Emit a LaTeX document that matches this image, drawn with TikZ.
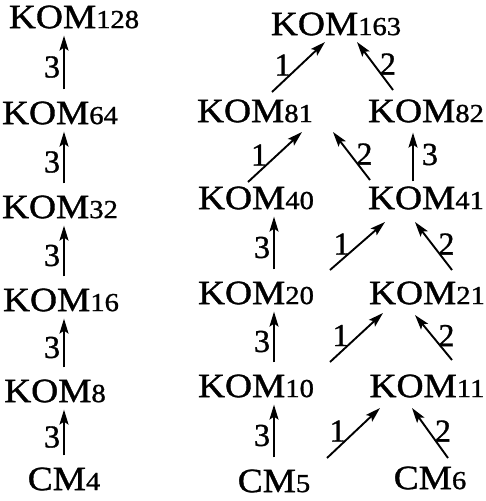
\documentclass[tikz,border=0pt]{standalone}
\usepackage{fontspec}
\setmainfont{Liberation Serif}
\newfontfamily\plainserif{Liberation Serif}[FakeBold=1]
\usetikzlibrary{arrows.meta}

\newcommand{\kom}[1]{\scalebox{1.1}[1]{KOM{\fontsize{26}{26}\selectfont #1}}}
\newcommand{\cm}[1]{\scalebox{1.1}[1]{CM{\fontsize{26}{26}\selectfont #1}}}

\begin{document}
\begin{tikzpicture}[x=1pt, y=-1pt,
    mod/.style={inner sep=0pt, font=\plainserif\fontsize{34}{36}\selectfont},
    arr/.style={-{Stealth[length=15pt, width=9pt, inset=3pt]}, line width=1.9pt},
    up/.style={arr, shorten <=12pt, shorten >=7pt},
    wt/.style={inner sep=1pt, font=\plainserif\fontsize{32}{32}\selectfont},
    wl/.style={wt, left=6pt, yshift=2pt},
    wr/.style={wt, right=3pt, yshift=2pt},
    wv/.style={wt, left=2pt, yshift=-2pt}]
  \useasboundingbox (0,0) rectangle (485,501);
  % left chain
  \node[mod] (k128) at (74,17) {\kom{128}};
  \node[mod] (k64) at (60,113) {\kom{64}};
  \node[mod] (k32) at (60,207) {\kom{32}};
  \node[mod] (k16) at (61,300) {\kom{16}};
  \node[mod] (k8) at (55,391) {\kom{8}};
  \node[mod] (cm4) at (64,479) {\cm{4}};
  \draw[up] (cm4.north) -- node[wv]{3} (k8.south -| cm4.north);
  \draw[up] (k8.north -| cm4.north) -- node[wv]{3} (k16.south -| cm4.north);
  \draw[up] (k16.north -| cm4.north) -- node[wv]{3} (k32.south -| cm4.north);
  \draw[up] (k32.north -| cm4.north) -- node[wv]{3} (k64.south -| cm4.north);
  \draw[up] (k64.north -| cm4.north) -- node[wv]{3} (k128.south -| cm4.north);
  % right tree
  \node[mod] (k163) at (336,24) {\kom{163}};
  \node[mod] (k81) at (255,111) {\kom{81}};
  \node[mod] (k82) at (426,111) {\kom{82}};
  \node[mod] (k40) at (256,198) {\kom{40}};
  \node[mod] (k41) at (426,198) {\kom{41}};
  \node[mod] (k20) at (256,293) {\kom{20}};
  \node[mod] (k21) at (427,293) {\kom{21}};
  \node[mod] (k10) at (256,386) {\kom{10}};
  \node[mod] (k11) at (427,386) {\kom{11}};
  \node[mod] (cm5) at (274,481) {\cm{5}};
  \node[mod] (cm6) at (430,478) {\cm{6}};
  % weight 3
  \draw[up] (cm5.north) -- node[wv]{3} (k10.south -| cm5.north);
  \draw[up] (k10.north -| cm5.north) -- node[wv]{3} (k20.south -| cm5.north);
  \draw[up] (k20.north -| cm5.north) -- node[wv]{3} (k40.south -| cm5.north);
  \draw[arr, shorten <=5pt, shorten >=10pt] ([xshift=-13pt]k41.north) -- node[wt, right=7pt]{3} ([xshift=-13pt]k82.south);
  % weight 1
  \draw[arr] ([shift={(53,-23)}]cm5.center) -- node[wl]{1} ([shift={(-47,22)}]k11.center);
  \draw[arr] ([shift={(74,-24)}]k10.center) -- node[wl]{1} ([shift={(-44,20)}]k21.center);
  \draw[arr] ([shift={(74,-23)}]k20.center) -- node[wl]{1} ([shift={(-41,24)}]k41.center);
  \draw[arr] ([shift={(-8,-16)}]k40.center) -- node[wl]{1} ([shift={(47,21)}]k81.center);
  \draw[arr] ([shift={(17,-19)}]k81.center) -- node[wl]{1} ([shift={(-11,18)}]k163.center);
  % weight 2
  \draw[arr] ([shift={(18,-20)}]cm6.center) -- node[wr]{2} ([shift={(-15,22)}]k11.center);
  \draw[arr] ([shift={(25,-26)}]k11.center) -- node[wr]{2} ([shift={(-12,22)}]k21.center);
  \draw[arr] ([shift={(25,-23)}]k21.center) -- node[wr]{2} ([shift={(-11,24)}]k41.center);
  \draw[arr] ([shift={(-56,-18)}]k41.center) -- node[wr]{2} ([shift={(78,21)}]k81.center);
  \draw[arr] ([shift={(-33,-21)}]k82.center) -- node[wr]{2} ([shift={(21,18)}]k163.center);
\end{tikzpicture}
\end{document}
